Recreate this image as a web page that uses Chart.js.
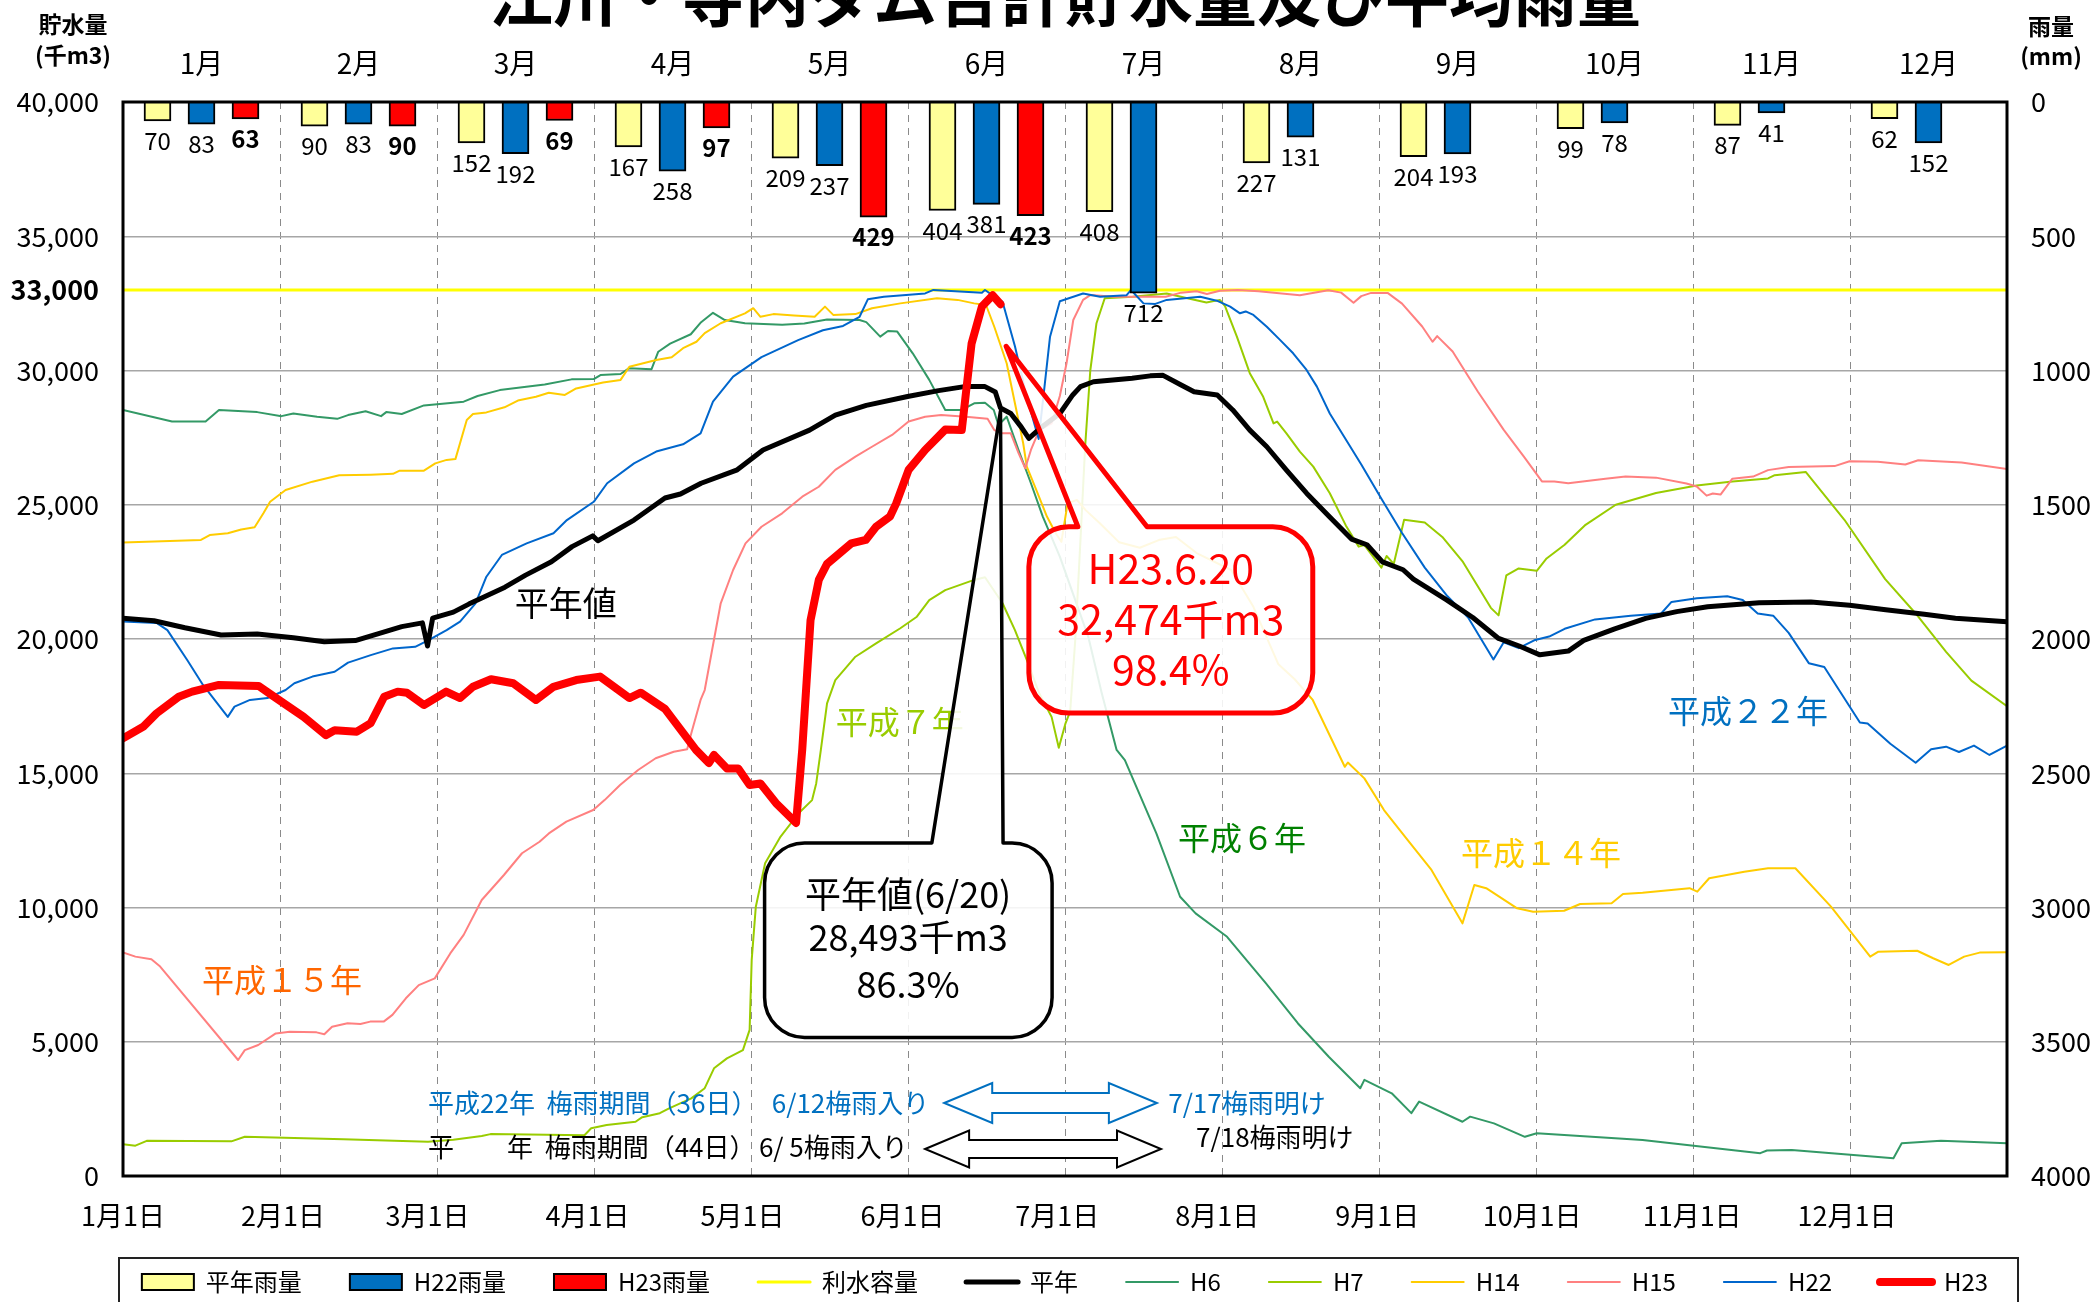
<!DOCTYPE html>
<html><head><meta charset="utf-8">
<script src="https://cdn.jsdelivr.net/npm/chart.js@4.4.1/dist/chart.umd.min.js"></script>
<style>
html,body{margin:0;padding:0;background:#fff;overflow:hidden;width:2098px;height:1302px;}
#wrap{position:absolute;left:0;top:-50px;width:2098px;height:1354px;}
canvas{display:block;}
</style></head><body>
<div id="wrap"><canvas id="c" width="2098" height="1354"></canvas></div>
<script>
const FONT = '"Noto Sans CJK JP", "Noto Sans", sans-serif';

// ---- categories / ticks ----
const monthLabels = ['1月','2月','3月','4月','5月','6月','7月','8月','9月','10月','11月','12月'];
const dateTickDays = [0,31,59,90,120,151,181,212,243,273,304,334];
const dateTickLabels = ['1月1日','2月1日','3月1日','4月1日','5月1日','6月1日','7月1日','8月1日','9月1日','10月1日','11月1日','12月1日'];

// ---- monthly rainfall (mm) ----
const rainNormal = [70,90,152,167,209,404,408,227,204,99,87,62];
const rainH22 = [83,83,192,258,237,381,712,131,193,78,41,152];
const rainH23 = [63,90,69,97,429,423,null,null,null,null,null,null];

// ---- storage (千m3), [day of year, value] ----
const capacity = [[0,33000],[365,33000]];
const avgSeries = [[0,20770],[6,20680],[12,20420],[19,20150],[26,20190],[33,20050],[39,19900],[45,19940],[50,20230],[54,20460],[58,20600],[59,19740],[60,20780],[64,21000],[67,21300],[74,21930],[78,22380],[83,22880],[87,23440],[91,23840],[92,23660],[99,24430],[105,25250],[108,25400],[112,25800],[119,26300],[124,27040],[133,27780],[138,28340],[144,28700],[152,29030],[158,29250],[163,29400],[167,29400],[169,29200],[170,28600],[172,28400],[174,27900],[175.5,27470],[178,27900],[181.5,28400],[184,29090],[185.5,29400],[188,29580],[195.5,29710],[199,29800],[201.5,29820],[205,29460],[207.5,29210],[212,29090],[215,28530],[218.3,27780],[221.6,27160],[225.4,26290],[229.3,25430],[233.5,24600],[238,23720],[241,23510],[244,22870],[248,22580],[250,22230],[256.5,21450],[261.5,20800],[266.5,20020],[270.5,19740],[274.5,19410],[280,19550],[283,19950],[289,20380],[295,20770],[301,21020],[307,21200],[317,21350],[327,21380],[334.5,21260],[341.5,21090],[349,20920],[355,20770],[365,20640]];
const h6Series = [[0,28530],[9.5,28100],[16,28100],[18.6,28530],[26,28450],[30.7,28300],[33,28400],[37.6,28280],[41.5,28200],[43.6,28340],[47,28480],[50,28300],[51,28450],[54,28380],[58.3,28700],[66,28840],[68.7,29050],[73,29270],[81.7,29480],[86.9,29670],[91.2,29680],[92.5,29830],[96.4,29870],[98,30080],[102.4,30050],[103.7,30700],[106,31000],[110,31350],[112,31800],[114.3,32150],[116.6,31880],[120.5,31760],[127.7,31700],[132,31750],[136.4,31900],[142.7,31880],[144,31800],[146.7,31260],[148.2,31470],[150,31450],[153,30640],[156.2,29650],[159.3,28530],[162.5,28530],[164.9,28780],[167,28800],[168.7,28530],[169.6,27970],[171.2,28280],[173.5,27040],[175.9,25800],[178.2,24560],[181.5,23070],[187,20090],[189.6,18000],[192.5,15870],[194.1,15490],[200.2,12760],[204.8,10400],[207.8,9780],[213.9,8910],[221.4,7180],[227.6,5690],[233.6,4440],[239.7,3270],[240.5,3580],[245.8,3080],[249.6,2340],[251.1,2770],[259.5,2020],[261,2210],[265.6,1960],[271.6,1460],[273.9,1590],[294.4,1340],[317.2,850],[318.5,950],[323.3,970],[343,660],[344.6,1220],[352.2,1310],[365,1220]];
const h7Series = [[0,1180],[2.4,1130],[4.6,1310],[21,1290],[23.6,1460],[42.7,1370],[59.1,1280],[64,1350],[69.5,1490],[71.2,1560],[89.4,1520],[90.7,1780],[93.7,1900],[99.3,2020],[100.6,2190],[104,2340],[105.8,2520],[110.1,2890],[112.7,3270],[114.5,4010],[117,4380],[120.1,4690],[121.4,5440],[121.8,8040],[122.6,10030],[124.4,11650],[127.4,12640],[130.9,13510],[133.5,14000],[134.3,14620],[135.2,15870],[136.4,17600],[138,18470],[141.9,19340],[145.9,19840],[150.6,20400],[153.8,20830],[156.2,21450],[159.3,21820],[164.9,22200],[167,22300],[170.4,21330],[172.8,20330],[175.1,19220],[177.5,17980],[179.9,17100],[181.3,15950],[182.6,16860],[183.5,17300],[184.5,20000],[185.5,23700],[186.4,27160],[187.4,30000],[188.6,31760],[190.2,32690],[195.6,32750],[202.2,32870],[206,32700],[209.9,32530],[212.5,32630],[213.5,32400],[215.8,31260],[218.3,29900],[220.9,29020],[222.9,28030],[223.6,28100],[225.4,27660],[228,26980],[230.6,26420],[233.8,25430],[236.9,24230],[239.4,23440],[240.5,23500],[243.8,22660],[244.8,23090],[246.2,22800],[248.2,24440],[252.2,24340],[255.6,23800],[259.6,22870],[263,21800],[265,21160],[266.5,20880],[268,22370],[270.4,22630],[273.9,22540],[275.8,23000],[279.3,23510],[283.2,24230],[289.2,25000],[297,25440],[304.9,25720],[311.8,25870],[318.7,25980],[320,26100],[326,26220],[333.5,24440],[341.4,22230],[347.3,20950],[353.2,19520],[358.1,18450],[365,17500]];
const h14Series = [[0,23590],[15.1,23690],[16.8,23870],[20.3,23940],[22.9,24080],[25.5,24160],[27.2,24680],[28.5,25110],[31.5,25550],[36.7,25860],[41.9,26100],[48,26120],[52.3,26150],[53.6,26270],[58.3,26270],[60.5,26540],[62.7,26670],[64.4,26700],[66.6,28160],[67.8,28380],[70.4,28440],[73.9,28630],[76.5,28880],[80,29020],[82.5,29170],[85.6,29090],[87.8,29330],[93,29550],[96.4,29650],[98.1,30140],[103.3,30390],[106.3,30490],[108.5,30830],[111.1,31070],[112.7,31390],[115.8,31760],[120.5,32130],[122.1,32320],[123.5,32000],[126,32100],[130,32050],[134,32000],[136,32380],[137.6,32070],[141.9,32100],[145.1,32320],[150.6,32500],[157.7,32690],[161.7,32630],[164.9,32500],[167.2,32440],[168.8,31630],[171.2,30270],[172.8,28780],[174.4,27290],[175.1,26420],[176.7,25670],[179,24560],[180.7,23940],[181.8,23620],[183,25050],[184.8,25180],[186.5,24800],[189.3,24300],[193,23600],[197,23400],[200.9,23700],[204,23800],[208,23200],[214.7,22570],[219,21200],[223.8,19070],[227,18500],[230.5,17730],[236.7,15240],[237.3,15400],[240.5,14810],[244.3,13630],[248.9,12510],[253.5,11400],[259.5,9410],[261.8,10840],[264.1,10720],[270.1,9970],[273.2,9840],[279.2,9880],[282.3,10130],[288.4,10160],[290.6,10500],[294.4,10550],[303.5,10720],[305,10590],[307.3,11090],[314.1,11330],[318.7,11460],[324,11460],[330.9,10030],[338.5,8170],[340,8350],[347.6,8390],[350.7,8110],[353.7,7860],[356.7,8170],[359.7,8320],[365,8330]];
const h15Series = [[0,8330],[2.4,8170],[5.5,8070],[7.2,7800],[22.3,4320],[23.6,4690],[26.2,4880],[29.6,5310],[32.3,5370],[37.5,5350],[39,5280],[40.5,5560],[43.5,5690],[46,5660],[47.9,5750],[50.5,5750],[52.2,6000],[54.8,6620],[57.3,7110],[60.4,7360],[63.4,8290],[66,8980],[69.5,10280],[73.8,11210],[77.3,12020],[80.7,12450],[82.5,12760],[85.9,13200],[91.1,13630],[93.3,14000],[96.3,14560],[99.8,15120],[103.2,15560],[106.7,15800],[109.3,15890],[110.1,16490],[111.9,17730],[112.7,18100],[115.8,21330],[118.2,22570],[120.6,23560],[123.7,24180],[127.7,24680],[131.6,25300],[134.8,25670],[138,26300],[141.9,26790],[145.1,27160],[149,27600],[152.2,28100],[155.4,28280],[158.5,28340],[163.3,28280],[167.5,28200],[168.8,27780],[170.4,27660],[172,27660],[173.5,26920],[174.8,26360],[175.9,27040],[177.5,27780],[179.9,28030],[181.5,29050],[182.8,30270],[184.1,31880],[186,32630],[187.4,32810],[192,32750],[196,32750],[202,32750],[205,32900],[208,32950],[210,32850],[212.5,32970],[216,33000],[220,32950],[228,32800],[233.5,32990],[236,32900],[238.4,32520],[239.9,32770],[241.8,32890],[245,32890],[247.8,32490],[251.7,31640],[253.7,31070],[254.6,31280],[257.6,30710],[262.5,29210],[267.5,27790],[271.4,26790],[274.9,25870],[277.3,25870],[280,25800],[287.2,25970],[291.1,26050],[297,26010],[302.9,25790],[304.9,25680],[306.8,25340],[308,25420],[309.5,25380],[311.8,25970],[315.8,26050],[318.7,26290],[322.7,26410],[331.6,26440],[334.5,26620],[340,26600],[345.3,26500],[347.8,26660],[356.2,26570],[365,26330]];
const h22Series = [[0,20650],[6.5,20600],[8.6,20330],[12.5,19200],[15.5,18290],[20.3,17100],[21.6,17480],[24.6,17730],[28,17800],[31.5,18100],[33.2,18350],[36.7,18600],[41,18780],[43.6,19120],[48,19400],[52.3,19650],[56.6,19710],[59.2,19960],[62.7,20330],[65.3,20650],[68.3,21330],[70.4,22320],[73.4,23130],[78.2,23560],[83.4,23940],[86,24430],[91.2,25110],[93.8,25800],[99,26540],[103.3,26980],[108.5,27250],[111.9,27660],[114.3,28840],[118.2,29770],[123.7,30500],[130.8,31130],[135.6,31500],[139.5,31660],[142.7,32000],[144.3,32650],[147.4,32750],[155.4,32870],[157,33000],[166.4,32900],[167,33000],[168.5,32800],[170.4,32560],[172.8,30900],[175.1,29000],[177.4,27450],[178.6,29520],[179.6,31260],[181.5,32580],[186,32870],[189.3,32750],[194.4,32800],[195.3,33000],[197.7,32500],[200,32480],[202.2,32630],[208.7,32750],[211.9,32600],[214.5,32380],[216.4,32130],[217.5,32200],[219,32070],[221.6,31630],[224.2,31130],[226.7,30640],[229.3,30020],[231.3,29400],[233.8,28400],[239.9,26500],[243.8,25220],[247.8,23950],[252.2,22660],[256.6,21590],[260.6,20800],[265.5,19240],[267.5,19880],[270.4,19660],[273.4,19950],[276.3,20090],[279.3,20380],[285.2,20730],[292.1,20870],[298,20950],[300,21380],[304.9,21520],[310.8,21590],[313.8,21450],[316.7,20950],[319.7,20870],[322.7,20230],[326.6,19100],[329.6,18960],[336.5,16890],[338,16850],[342.4,16100],[347.3,15390],[350.3,15890],[353.2,15990],[355.7,15790],[358.6,16030],[361.6,15680],[365,16030]];
const h23Series = [[0,16300],[3.9,16730],[6.5,17230],[10.8,17850],[13.4,18040],[18.6,18290],[26.3,18250],[28.9,17900],[35,17100],[39.3,16420],[41,16600],[45.3,16550],[48,16870],[50.6,17850],[53.2,18040],[55,18000],[58.3,17540],[62.6,18040],[65.3,17800],[67.8,18220],[71.3,18500],[75.6,18350],[80,17730],[83.4,18220],[87.8,18470],[92.4,18600],[98.1,17800],[100.3,18000],[105,17400],[111,15870],[113.5,15380],[114.5,15680],[117,15180],[119.2,15180],[121.4,14560],[123.5,14620],[126.5,13890],[130.4,13150],[131.6,15900],[133.2,20700],[134.8,22200],[136.4,22800],[141.1,23560],[143.9,23690],[145.9,24180],[148.6,24560],[149.8,25050],[152.2,26300],[155.4,27040],[159.3,27800],[162.5,27780],[163.3,29150],[164.4,31000],[166.4,32380],[168.5,32800],[170,32470]];

const toXY = s => s.map(([x, y]) => ({x, y}));
const toMonthXY = arr => arr.map((y, i) => ({x: i, y}));
const fmt = v => String(v).replace(/\B(?=(\d{3})+(?!\d))/g, ',');

// ---- annotations (anchored in data coordinates: day / 千m3) ----
const seriesNotes = [
  {text:'平年値', day:85.8, val:21340, color:'#000000', size:34},
  {text:'平成７年', day:150.5, val:16900, color:'#99CC00', size:32},
  {text:'平成６年', day:216.8, val:12590, color:'#008000', size:32},
  {text:'平成１４年', day:274.7, val:12030, color:'#FFCC00', size:32},
  {text:'平成１５年', day:30.8, val:7300, color:'#FF6600', size:32},
  {text:'平成２２年', day:314.8, val:17320, color:'#0070C0', size:32}
];
const callouts = [
  {l:124.3, r:180.0, t:12400, b:5160, p1:156.7, p2:170.5, tipDay:170, tipVal:28493,
   color:'#000000', width:3.5, size:36, cx:152.1,
   lines:[['平年値(6/20)',10500],['28,493千m3',8900],['86.3%',7150]]},
  {l:175.5, r:230.5, t:24180, b:17240, p1:185.0, p2:198.4, tipDay:171.1, tipVal:30900,
   color:'#FF0000', width:5, size:41, cx:203.0,
   lines:[['H23.6.20',22640],['32,474千m3',20740],['98.4%',18880]]}
];
const rainyTexts = [
  {text:'平成22年  梅雨期間（36日）', day:59.1, val:2720, color:'#0070C0'},
  {text:'6/12梅雨入り', day:125.7, val:2720, color:'#0070C0'},
  {text:'7/17梅雨明け', day:202.5, val:2720, color:'#0070C0'},
  {text:'平', day:59.1, val:1080, color:'#000000'},
  {text:'年  梅雨期間（44日）', day:74.4, val:1080, color:'#000000'},
  {text:'6/ 5梅雨入り', day:123.2, val:1080, color:'#000000'},
  {text:'7/18梅雨明け', day:207.9, val:1450, color:'#000000'}
];
const rainyArrows = [
  {d0:159.1, d1:200.3, val:2720, h:40, s:20, hw:48, color:'#0070C0'},
  {d0:155.4, d1:201.1, val:1006, h:37, s:18, hw:44, color:'#000000'}
];

Chart.defaults.font.family = FONT;
Chart.defaults.color = '#000';

function roundedCallout(ctx, L, T, R, B, rad, x1, x2, tx, ty) {
  ctx.beginPath();
  ctx.moveTo(L + rad, T);
  ctx.lineTo(x1, T);
  ctx.lineTo(tx, ty);
  ctx.lineTo(x2, T);
  ctx.lineTo(R - rad, T);
  ctx.arcTo(R, T, R, T + rad, rad);
  ctx.lineTo(R, B - rad);
  ctx.arcTo(R, B, R - rad, B, rad);
  ctx.lineTo(L + rad, B);
  ctx.arcTo(L, B, L, B - rad, rad);
  ctx.lineTo(L, T + rad);
  ctx.arcTo(L, T, L + rad, T, rad);
  ctx.closePath();
}
function doubleArrow(ctx, x0, x1, cy, h, s, hw) {
  ctx.beginPath();
  ctx.moveTo(x0, cy);
  ctx.lineTo(x0 + hw, cy - h / 2);
  ctx.lineTo(x0 + hw, cy - s / 2);
  ctx.lineTo(x1 - hw, cy - s / 2);
  ctx.lineTo(x1 - hw, cy - h / 2);
  ctx.lineTo(x1, cy);
  ctx.lineTo(x1 - hw, cy + h / 2);
  ctx.lineTo(x1 - hw, cy + s / 2);
  ctx.lineTo(x0 + hw, cy + s / 2);
  ctx.lineTo(x0 + hw, cy + h / 2);
  ctx.closePath();
}

const annoPlugin = {
  id: 'anno',
  afterDatasetsDraw(chart) {
    const ctx = chart.ctx;
    const xs = chart.scales.xd, ys = chart.scales.yl;
    const X = d => xs.getPixelForValue(d), Y = v => ys.getPixelForValue(v);
    const ca = chart.chartArea;
    ctx.save();
    ctx.textBaseline = 'middle';
    seriesNotes.forEach(n => {
      ctx.font = `${n.size}px ${FONT}`;
      ctx.fillStyle = n.color;
      ctx.textAlign = 'center';
      ctx.fillText(n.text, X(n.day), Y(n.val));
    });
    callouts.forEach(c => {
      roundedCallout(ctx, X(c.l), Y(c.t), X(c.r), Y(c.b), 40, X(c.p1), X(c.p2), X(c.tipDay), Y(c.tipVal));
      ctx.fillStyle = 'rgba(255,255,255,0.88)';
      ctx.fill();
      ctx.lineWidth = c.width;
      ctx.strokeStyle = c.color;
      ctx.lineJoin = 'round';
      ctx.stroke();
      ctx.fillStyle = c.color;
      ctx.font = `${c.size}px ${FONT}`;
      ctx.textAlign = 'center';
      c.lines.forEach(([t, v]) => ctx.fillText(t, X(c.cx), Y(v)));
    });
    ctx.font = `26px ${FONT}`;
    ctx.textAlign = 'left';
    rainyTexts.forEach(t => {
      ctx.fillStyle = t.color;
      ctx.fillText(t.text, X(t.day), Y(t.val));
    });
    rainyArrows.forEach(a => {
      doubleArrow(ctx, X(a.d0), X(a.d1), Y(a.val), a.h, a.s, a.hw);
      ctx.fillStyle = '#ffffff';
      ctx.fill();
      ctx.lineWidth = 2;
      ctx.strokeStyle = a.color;
      ctx.lineJoin = 'miter';
      ctx.stroke();
    });
    // bar value labels
    ctx.textAlign = 'center';
    [0, 1, 2].forEach(di => {
      const meta = chart.getDatasetMeta(di);
      const ds = chart.data.datasets[di];
      meta.data.forEach((el, j) => {
        const p = ds.data[j];
        if (!p || p.y === null || p.y === undefined) return;
        ctx.font = (di === 2 ? 'bold ' : '') + `24px ${FONT}`;
        ctx.fillStyle = '#000';
        ctx.fillText(String(p.y), el.x, el.y + 20);
      });
    });
    // plot frame
    ctx.lineWidth = 3;
    ctx.strokeStyle = '#000';
    ctx.strokeRect(ca.left, ca.top, ca.right - ca.left, ca.bottom - ca.top);
    // legend frame
    const lg = chart.legend;
    const lp = lg.options.labels.padding;
    const textCenter = lg.top + lp + 12;
    ctx.lineWidth = 2;
    ctx.strokeStyle = '#222';
    ctx.strokeRect(ca.left - 4, textCenter - 24, (ca.right + 11) - (ca.left - 4), chart.height + 10 - (textCenter - 24));
    // axis unit titles
    ctx.font = `bold 23px ${FONT}`;
    ctx.fillStyle = '#000';
    ctx.textAlign = 'center';
    ctx.fillText('貯水量', 73, 74);
    ctx.fillText('(千m3)', 73, 105);
    ctx.fillText('雨量', 2051, 76);
    ctx.fillText('(mm)', 2051, 106);
    ctx.restore();
  }
};

const lineDs = (label, pairs, color, width, order) => ({
  type: 'line', label, data: toXY(pairs), xAxisID: 'xd', yAxisID: 'yl',
  borderColor: color, backgroundColor: color, borderWidth: width,
  pointRadius: 0, pointHoverRadius: 0, tension: 0, fill: false,
  borderJoinStyle: 'round', borderCapStyle: 'round', order
});
const barDs = (label, data, color, axis) => ({
  type: 'bar', label, data: toMonthXY(data), xAxisID: axis, yAxisID: 'yr',
  backgroundColor: color, borderColor: '#000', borderWidth: 2,
  grouped: false, barThickness: 27, order: 2
});
// hidden month axes: each bar series sits in its own slot of the month (slot = 0.28 month)
const SLOT = 0.2803;
const barAxis = (shift) => ({
  type: 'linear', display: false, position: 'bottom', offset: false,
  min: -0.5 - shift, max: 11.5 - shift,
  afterBuildTicks: s => { s.ticks = monthLabels.map((_, i) => ({ value: i })); },
  grid: { display: false, offset: false }
});

new Chart(document.getElementById('c'), {
  type: 'bar',
  data: {
    datasets: [
      barDs('平年雨量', rainNormal, '#FFFF99', 'xb0'),
      barDs('H22雨量', rainH22, '#0070C0', 'xb1'),
      barDs('H23雨量', rainH23, '#FF0000', 'xb2'),
      lineDs('利水容量', capacity, '#FFFF00', 3, 9),
      lineDs('平年', avgSeries, '#000000', 5, 1),
      lineDs('H6', h6Series, '#339966', 2, 8),
      lineDs('H7', h7Series, '#99CC00', 2, 7),
      lineDs('H14', h14Series, '#FFCC00', 2, 6),
      lineDs('H15', h15Series, '#FF8080', 2, 5),
      lineDs('H22', h22Series, '#0066CC', 2, 4),
      lineDs('H23', h23Series, '#FF0000', 8, 0)
    ]
  },
  options: {
    responsive: false,
    devicePixelRatio: 1,
    animation: false,
    events: [],
    layout: { padding: { left: 0, right: -32, top: 0, bottom: 0 } },
    scales: {
      xb0: barAxis(-SLOT),
      xb1: barAxis(0),
      xb2: barAxis(SLOT),
      xm: {
        type: 'category', position: 'top', labels: monthLabels,
        offset: true,
        grid: { display: true, offset: true, color: '#8a8a8a', lineWidth: 1, drawTicks: false, borderDash: [7, 6] },
        border: { display: false, dash: [7, 6] },
        ticks: { font: { size: 28 }, padding: 22, color: '#000', maxRotation: 0 },
        afterFit: s => { s.height = 63; }
      },
      xd: {
        type: 'linear', position: 'bottom', min: 0, max: 365,
        offset: false,
        grid: { display: false, offset: false, drawTicks: false },
        border: { display: false },
        afterBuildTicks: s => { s.ticks = dateTickDays.map(v => ({ value: v })); },
        ticks: {
          autoSkip: false, maxRotation: 0, mirror: true, padding: -56, font: { size: 27 }, color: '#000',
          callback: (v) => { const i = dateTickDays.indexOf(v); return i >= 0 ? dateTickLabels[i] : ''; }
        },
        afterFit: s => { s.height = 46; }
      },
      yl: {
        type: 'linear', position: 'left', min: 0, max: 40000,
        afterBuildTicks: s => {
          const t = [];
          for (let v = 0; v <= 40000; v += 5000) t.push(v);
          t.push(33000);
          t.sort((a, b) => a - b);
          s.ticks = t.map(v => ({ value: v }));
        },
        grid: {
          drawTicks: false, lineWidth: 1.5,
          color: c => (c.tick && c.tick.value === 33000) ? 'rgba(0,0,0,0)' : '#a6a6a6'
        },
        border: { display: false },
        ticks: {
          padding: 24, color: '#000',
          font: c => ({ size: 27, weight: (c.tick && c.tick.value === 33000) ? 'bold' : 'normal' }),
          callback: v => fmt(v)
        },
        afterFit: s => { s.width = 123; }
      },
      yr: {
        type: 'linear', position: 'right', min: 0, max: 4000, reverse: true,
        grid: { display: false, drawTicks: false },
        border: { display: false },
        ticks: { stepSize: 500, padding: 24, font: { size: 27 }, color: '#000', callback: v => String(v) },
        afterFit: s => { s.width = 123; }
      }
    },
    plugins: {
      tooltip: { enabled: false },
      title: {
        display: true, text: '江川・寺内ダム合計貯水量及び平均雨量',
        font: { size: 64, weight: 'bold', lineHeight: 1 }, color: '#000',
        padding: { top: 15, bottom: 10 }, fullSize: false
      },
      legend: {
        display: true, position: 'bottom', fullSize: true, align: 'center',
        labels: {
          font: { size: 24 }, color: '#000', usePointStyle: true, pointStyleWidth: 52,
          boxHeight: 16, padding: 48,
          sort: (a, b) => a.datasetIndex - b.datasetIndex,
          generateLabels: (chart) => {
            const items = Chart.defaults.plugins.legend.labels.generateLabels(chart);
            items.forEach(it => {
              const ds = chart.data.datasets[it.datasetIndex];
              if (ds.type === 'bar') {
                it.pointStyle = 'rect'; it.lineWidth = 2; it.strokeStyle = '#000'; it.fillStyle = ds.backgroundColor;
              } else {
                it.pointStyle = 'line'; it.lineWidth = ds.borderWidth; it.strokeStyle = ds.borderColor; it.lineCap = 'round';
              }
            });
            return items;
          }
        }
      }
    }
  },
  plugins: [annoPlugin]
});
</script>
</body></html>
